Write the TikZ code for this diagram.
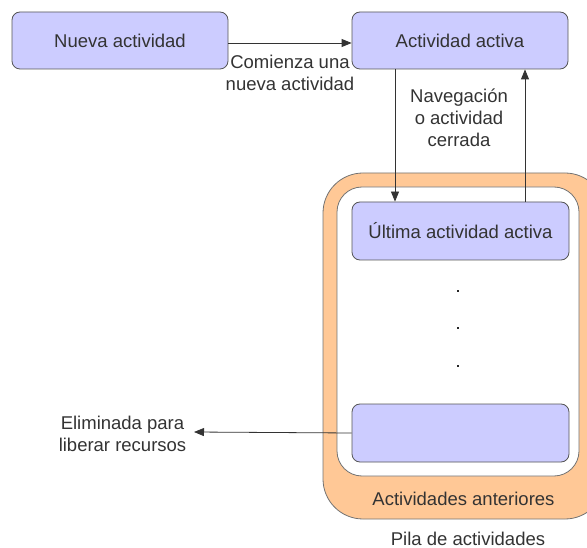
\documentclass[tikz,border=0pt]{standalone}
\usepackage{fontspec}
\setmainfont{Liberation Sans}
\usetikzlibrary{arrows.meta}
\definecolor{boxfill}{HTML}{CCCCFF}
\definecolor{boxline}{HTML}{555555}
\definecolor{stackfill}{HTML}{FFC896}
\definecolor{txt}{HTML}{333333}
\tikzset{
  actbox/.style={draw=boxline, fill=boxfill, rounded corners=8pt, line width=0.8pt, minimum width=216pt, minimum height=57pt, inner sep=0pt, text=txt, font=\fontsize{18.5}{22}\selectfont},
  lbl/.style={text=txt, font=\fontsize{18.5}{22}\selectfont, align=center, inner sep=0pt},
  conn/.style={draw=black!80, line width=0.8pt, -{Triangle[length=10pt,width=8pt]}},
  dotmark/.style={fill=black!85, minimum size=2.4pt, inner sep=0pt}
}
\begin{document}
\begin{tikzpicture}[x=1pt,y=-1pt]
\useasboundingbox (0,0) rectangle (587,548);
% stack
\draw[draw=black!55, fill=stackfill, line width=0.8pt, rounded corners=40pt] (323,173) rectangle (605,519);
\draw[draw=black!55, fill=white, line width=0.8pt, rounded corners=25pt] (337,187) rectangle (579,476);
% boxes
\node[actbox] (nueva) at (120,40.5) {Nueva actividad};
\node[actbox] (activa) at (460,40.5) {Actividad activa};
\node[actbox, minimum width=217pt, minimum height=58pt] (ultima) at (460.5,231) {Última actividad activa};
\node[actbox, minimum width=217pt, minimum height=58pt] (fondo) at (460.5,433) {};
% dots
\node[dotmark] (d1) at (458,291) {};
\node[dotmark] (d2) at (458,328) {};
\node[dotmark] (d3) at (458,366) {};
% labels
\node[lbl] (lcom) at (290,72.5) {Comienza una\\nueva actividad};
\node[lbl] (lnav) at (459,118) {Navegación\\o actividad\\cerrada};
\node[lbl] (lelim) at (122.5,433.5) {Eliminada para\\liberar recursos};
\node[lbl] (lant) at (463.5,499) {Actividades anteriores};
\node[lbl] (lpila) at (468,539) {Pila de actividades};
\coordinate (elimend) at (194,432);
% connectors
\draw[conn] (nueva.east |- 0,43) -- (activa.west |- 0,43);
\draw[conn] (activa.south -| 395,0) -- (ultima.north -| 395,0);
\draw[conn] (ultima.north -| 525,0) -- (activa.south -| 525,0);
\draw[conn] (fondo.west) -- (elimend);
\end{tikzpicture}
\end{document}
